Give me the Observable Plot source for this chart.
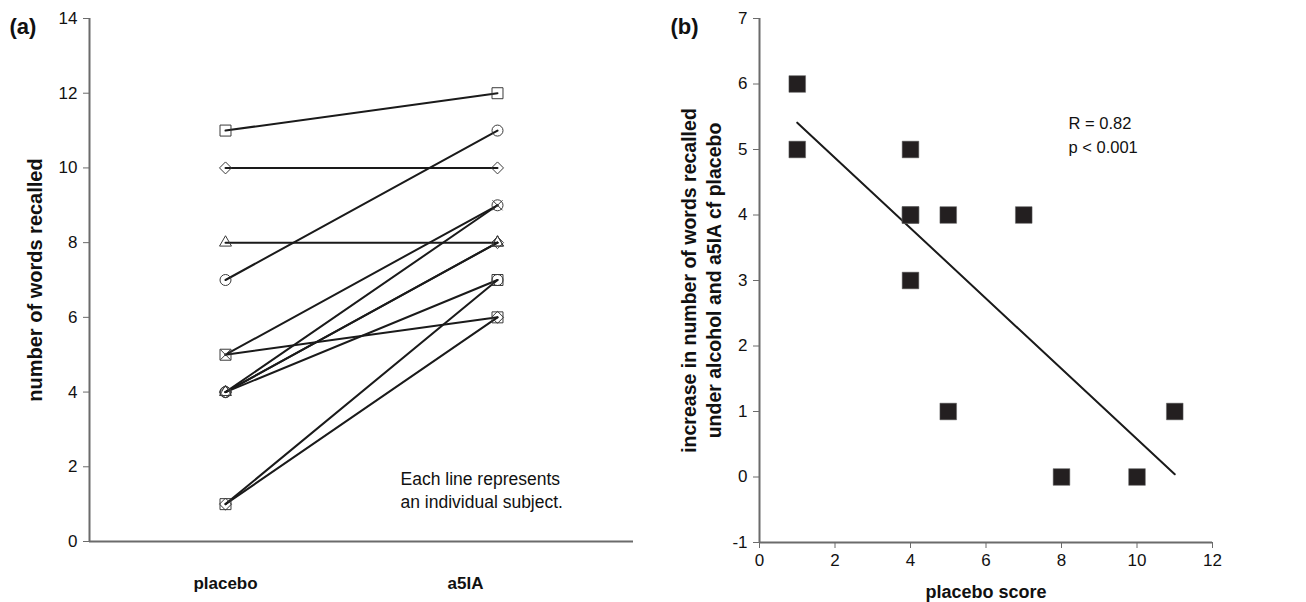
<!DOCTYPE html>
<html><head><meta charset="utf-8">
<script src="https://cdn.jsdelivr.net/npm/d3@7"></script>
<script src="https://cdn.jsdelivr.net/npm/@observablehq/plot@0.6"></script>
<style>
body{margin:0;background:#fff;width:1306px;height:602px;overflow:hidden;font-family:"Liberation Sans",Arial,sans-serif}
#a{position:absolute;left:0;top:0}
#b{position:absolute;left:650px;top:0}
</style></head><body><div id="a"></div><div id="b"></div>
<script>
// ---- data ----
const conditions = ["placebo", "a5IA"];
const subjects = ["S1","S2","S3","S4","S5","S6","S7","S8","S9","S10","S11","S12"];
const placeboScores = [11, 10, 8, 7, 5, 5, 4, 4, 4, 4, 1, 1];
const a5iaScores    = [12, 10, 8, 11, 9, 6, 9, 8, 8, 7, 7, 6];
const markerSymbols = ["square","diamond2","triangle2","circle","times","square","circle","diamond2","triangle2","circle","square","diamond2"];
const yTicksA = [0, 2, 4, 6, 8, 10, 12, 14];
const xTicksB = [0, 2, 4, 6, 8, 10, 12];
const yTicksB = [-1, 0, 1, 2, 3, 4, 5, 6, 7];
const annotationA = "Each line represents\nan individual subject.";
const statsText = "R = 0.82\np < 0.001";
const titleA = "(a)", titleB = "(b)";
const yLabelA = "number of words recalled";
const yLabelB = "increase in number of words recalled\nunder alcohol and a5IA cf placebo";
const xLabelB = "placebo score";

// long table for panel (a)
const long = [];
subjects.forEach((s, i) => {
  long.push({subject: s, cond: 0, value: placeboScores[i], symbol: markerSymbols[i]});
  long.push({subject: s, cond: 1, value: a5iaScores[i], symbol: markerSymbols[i]});
});
// table for panel (b)
const rowsB = subjects.map((s, i) => ({placebo: placeboScores[i], increase: a5iaScores[i] - placeboScores[i]}));

const axisGray = "#6b6b6b";
const font = "Liberation Sans, Arial, sans-serif";
const symbolSize = {square: 6.2, diamond2: 5.4, triangle2: 5.7, circle: 5.5, times: 4.6};

const symbolMarks = [...new Set(markerSymbols)].map(sym =>
  Plot.dot(long.filter(d => d.symbol === sym), {
    x: "cond", y: "value", symbol: sym, r: symbolSize[sym],
    stroke: "#3a3a3a", strokeWidth: 1, fill: "none"
  })
);

const plotA = Plot.plot({
  width: 650, height: 602,
  marginLeft: 89, marginRight: 17, marginTop: 18, marginBottom: 61,
  x: {domain: [-0.5, 1.5], axis: null},
  y: {domain: [0, 14], axis: null},
  style: {fontFamily: font, fontSize: "17px", color: "#000", background: "white"},
  marks: [
    Plot.ruleY([0], {stroke: axisGray, strokeWidth: 2}),
    Plot.ruleX([-0.5], {stroke: axisGray, strokeWidth: 2}),
    Plot.axisY({ticks: yTicksA, tickFormat: d => String(d), tickSize: 6, tickPadding: 6, stroke: axisGray, fill: "#111", fontSize: 17, label: null}),
    Plot.lineY(long, {x: "cond", y: "value", z: "subject", stroke: "#1a1a1a", strokeWidth: 2}),
    ...symbolMarks,
    Plot.text([conditions[0]], {x: () => 0, y: () => 0, text: d => d, dy: 42, fontWeight: "bold", fontSize: 17, fill: "#111"}),
    Plot.text([conditions[1]], {x: () => 1, y: () => 0, text: d => d, dy: 42, dx: -32, fontWeight: "bold", fontSize: 17, fill: "#111"}),
    Plot.text([annotationA], {text: d => d, frameAnchor: "bottom-left", textAnchor: "start", lineAnchor: "middle", dx: 311, dy: -52, lineHeight: 1.32, fontSize: 17.5, fill: "#111"}),
    Plot.text([yLabelA], {text: d => d, frameAnchor: "left", textAnchor: "middle", rotate: -90, dx: -54, fontWeight: "bold", fontSize: 20, fill: "#111"}),
    Plot.text([titleA], {text: d => d, frameAnchor: "top-left", textAnchor: "start", lineAnchor: "middle", dx: -80, dy: 8, fontWeight: "bold", fontSize: 22, fill: "#111"})
  ]
});
document.getElementById("a").append(plotA);

const plotB = Plot.plot({
  width: 656, height: 602,
  marginLeft: 109, marginRight: 94, marginTop: 18, marginBottom: 60,
  x: {domain: [0, 12], axis: null},
  y: {domain: [-1, 7], axis: null},
  style: {fontFamily: font, fontSize: "17px", color: "#000", background: "white"},
  marks: [
    Plot.ruleY([-1], {stroke: axisGray, strokeWidth: 2}),
    Plot.ruleX([0], {stroke: axisGray, strokeWidth: 2}),
    Plot.axisY({ticks: yTicksB, tickFormat: d => String(d), tickSize: 6, tickPadding: 6, stroke: axisGray, fill: "#111", fontSize: 17, label: null}),
    Plot.axisX({ticks: xTicksB, tickFormat: d => String(d), tickSize: 6, tickPadding: 5, stroke: axisGray, fill: "#111", fontSize: 17, label: null}),
    Plot.linearRegressionY(rowsB, {x: "placebo", y: "increase", ci: 0, stroke: "#1a1a1a", strokeWidth: 2}),
    Plot.dot(rowsB, {x: "placebo", y: "increase", symbol: "square", r: 9.4, fill: "#231f20", stroke: "#666", strokeWidth: 0.5}),
    Plot.text([statsText], {text: d => d, frameAnchor: "top-left", textAnchor: "start", lineAnchor: "middle", dx: 309, dy: 115, lineHeight: 1.45, fontSize: 16.5, fill: "#111"}),
    Plot.text([xLabelB], {text: d => d, frameAnchor: "bottom", lineAnchor: "middle", dy: 50, fontWeight: "bold", fontSize: 18, fill: "#111"}),
    Plot.text([yLabelB], {text: d => d, frameAnchor: "left", textAnchor: "middle", rotate: -90, dx: -59, lineHeight: 1.3, fontWeight: "bold", fontSize: 19.5, fill: "#111"}),
    Plot.text([titleB], {text: d => d, frameAnchor: "top-left", textAnchor: "start", lineAnchor: "middle", dx: -89, dy: 8, fontWeight: "bold", fontSize: 22, fill: "#111"})
  ]
});
document.getElementById("b").append(plotB);
</script>
</body></html>
